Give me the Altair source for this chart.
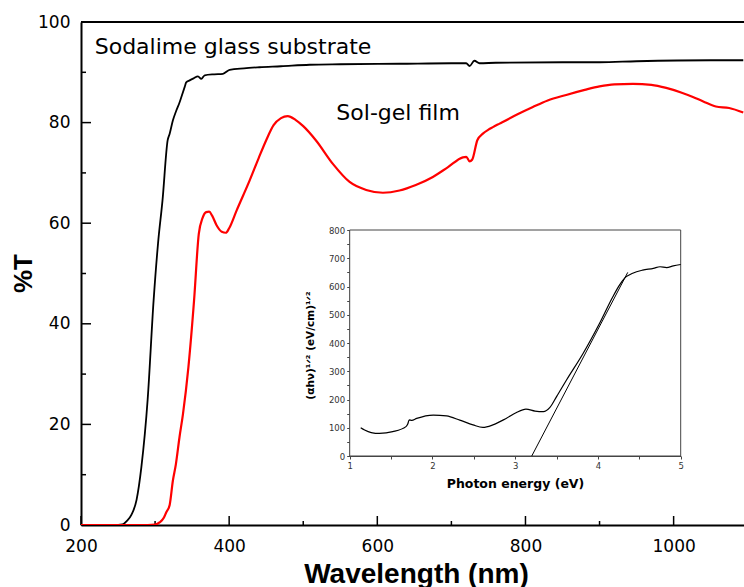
import altair as alt
import pandas as pd

# ---------------- data ----------------
glass_wl = [200, 250, 256, 262, 268, 275, 281.5, 290, 298, 304, 310, 317, 319.7, 324, 328.7,
            333, 335.5, 340, 342, 346.7, 352, 357.9, 362.4, 367, 380, 391.6, 400.6, 420, 441,
            470, 508.6, 550, 630, 700, 720, 724.6, 731, 738, 760, 850, 900, 950, 1050, 1094]
glass_T = [0, 0, 0.1, 0.8, 2, 5, 11.5, 25, 44.6, 56, 64.5, 76.5, 77.8, 80.4, 82.4,
           84.0, 85.1, 87.1, 88.0, 88.4, 88.8, 89.2, 88.7, 89.4, 89.6, 89.7, 90.5, 90.8, 91.0,
           91.2, 91.5, 91.6, 91.7, 91.8, 91.8, 91.25, 92.3, 91.8, 91.9, 92.0, 92.0, 92.2, 92.4, 92.4]

film_wl = [200, 290, 300, 306, 312, 315, 319.7, 324, 328, 333, 337.6, 345, 352.6, 359, 364,
           369, 373, 377, 383, 390, 395.5, 400, 410, 427.7, 440, 450, 460, 470, 479, 490,
           500, 517, 540, 562.6, 585, 607.6, 630, 652, 675, 695, 715.5, 720, 724.6, 728,
           735, 742.5, 750, 756, 765, 790, 810, 830, 855, 880, 900, 920, 945, 970, 990,
           1010, 1026, 1040, 1057, 1075, 1094]
film_T = [0, 0, 0.1, 0.5, 1.5, 2.5, 4, 8.8, 12, 17.5, 22, 31.4, 44.6, 57.9, 61,
          62.2, 62.3, 61.5, 59.6, 58.3, 58.1, 59, 62.5, 68.5, 73, 76.5, 79.5, 80.9, 81.3, 80.5,
          79.3, 76.5, 71.8, 68.2, 66.6, 66.05, 66.5, 67.6, 69.2, 71.1, 73.1, 73.2, 72.3, 72.6,
          76.5, 77.8, 78.6, 79.1, 79.8, 81.7, 83.1, 84.4, 85.5, 86.5, 87.2, 87.6, 87.7, 87.5, 86.9,
          86.0, 85.1, 84.2, 83.2, 82.9, 82.0]

inset_eV = [1.133, 1.18, 1.26, 1.36, 1.52, 1.68, 1.70, 1.72, 1.75, 1.81, 2.01, 2.17, 2.33,
            2.49, 2.61, 2.73, 2.89, 3.01, 3.13, 3.24, 3.34, 3.42, 3.50, 3.62, 3.82, 4.02,
            4.18, 4.26, 4.32, 4.42, 4.54, 4.67, 4.75, 4.83, 4.91, 5.0]
inset_val = [100, 92, 83, 80, 86, 104, 112, 128, 126, 133, 145, 142, 127,
             110, 101, 110, 133, 153, 166, 159, 157, 172, 210, 269, 363, 470,
             564, 605, 629, 647, 658, 664, 670, 667, 673, 678]

tangent_eV = [3.20, 4.36]
tangent_val = [0, 650]

y_ticks = [0, 20, 40, 60, 80, 100]
y_minor = [10, 30, 50, 70, 90]
x_ticks = [200, 400, 600, 800, 1000]
x_minor = [300, 500, 700, 900]
inset_x_ticks = [1, 1.5, 2, 2.5, 3, 3.5, 4, 4.5, 5]
inset_y_ticks = list(range(0, 801, 50))

labels_text = ["Sodalime glass substrate", "Sol-gel film"]
labels_wl = [218.5, 544.7]
labels_T = [93.7, 80.6]

# ---------------- layout ----------------
W, H = 663, 503
xs = alt.Scale(domain=[200, 1095], nice=False, zero=False)
ys = alt.Scale(domain=[0, 100], nice=False, zero=False)

df_glass = pd.DataFrame({"wl": glass_wl, "T": glass_T})
df_film = pd.DataFrame({"wl": film_wl, "T": film_T})
df_text = pd.DataFrame({"wl": labels_wl, "T": labels_T, "label": labels_text})

xaxis = alt.Axis(orient="bottom", values=x_ticks, format="d", ticks=False, grid=False,
                 domainWidth=2, domainColor="black",
                 labelFont="DejaVu Sans", labelFontSize=17, labelColor="black", labelPadding=13,
                 labelFlush=False, labelOverlap=False,
                 title="Wavelength (nm)", titleFont="Liberation Sans", titleFontWeight="bold",
                 titleFontSize=28, titleColor="black", titleX=335, titleY=57,
                 titleBaseline="alphabetic", titleAlign="center")
yaxis = alt.Axis(orient="left", values=y_ticks, format="d", ticks=False, grid=False,
                 domainWidth=2, domainColor="black",
                 labelFont="DejaVu Sans", labelFontSize=17, labelColor="black", labelPadding=11,
                 labelOverlap=False,
                 title="%T", titleFont="Liberation Sans", titleFontWeight="bold",
                 titleFontSize=26, titleColor="black", titleX=-50, titleY=251, titleAngle=270,
                 titleBaseline="alphabetic", titleAlign="center")

glass = alt.Chart(df_glass).mark_line(color="black", strokeWidth=1.8, interpolate="monotone", clip=True).encode(
    x=alt.X("wl:Q", scale=xs, axis=xaxis),
    y=alt.Y("T:Q", scale=ys, axis=yaxis),
)
film = alt.Chart(df_film).mark_line(color="#ff0000", strokeWidth=2.2, interpolate="monotone", clip=True).encode(
    x=alt.X("wl:Q", scale=xs, axis=None),
    y=alt.Y("T:Q", scale=ys, axis=None),
)
texts = alt.Chart(df_text).mark_text(align="left", baseline="alphabetic", font="DejaVu Sans",
                                     fontSize=22, color="black").encode(
    x=alt.X("wl:Q", scale=xs, axis=None),
    y=alt.Y("T:Q", scale=ys, axis=None),
    text="label:N",
)

top_border = alt.Chart(pd.DataFrame({"v": [100]})).mark_rule(color="black", strokeWidth=2).encode(
    y=alt.Y("v:Q", scale=ys, axis=None), x=alt.value(0), x2=alt.value(W))
ymaj = alt.Chart(pd.DataFrame({"v": y_ticks})).mark_rule(color="black", strokeWidth=1.5).encode(
    y=alt.Y("v:Q", scale=ys, axis=None), x=alt.value(0), x2=alt.value(10))
ymin = alt.Chart(pd.DataFrame({"v": y_minor})).mark_rule(color="black", strokeWidth=1.5).encode(
    y=alt.Y("v:Q", scale=ys, axis=None), x=alt.value(0), x2=alt.value(5))
xmaj = alt.Chart(pd.DataFrame({"v": x_ticks})).mark_rule(color="black", strokeWidth=1.5).encode(
    x=alt.X("v:Q", scale=xs, axis=None), y=alt.value(H), y2=alt.value(H - 9))
xmin = alt.Chart(pd.DataFrame({"v": x_minor})).mark_rule(color="black", strokeWidth=1.5).encode(
    x=alt.X("v:Q", scale=xs, axis=None), y=alt.value(H), y2=alt.value(H - 4))

# ---------------- inset ----------------
ix = alt.Scale(domain=[1, 5], range=[268.7, 599.7], nice=False, zero=False)
iy = alt.Scale(domain=[0, 800], range=[434, 208], nice=False, zero=False)

ixaxis = alt.Axis(orient="bottom", offset=-69, values=inset_x_ticks,
                  labelExpr="datum.value % 1 == 0 ? format(datum.value, 'd') : ''",
                  tickSize=3, tickColor="#444", domainColor="#444", grid=False,
                  labelFont="DejaVu Sans", labelFontSize=8.5, labelColor="#333", labelPadding=2,
                  labelFlush=False, labelOverlap=False,
                  title="Photon energy (eV)", titleFont="DejaVu Sans", titleFontWeight="bold",
                  titleFontSize=12.5, titleColor="black", titleX=434, titleY=31.7,
                  titleBaseline="alphabetic", titleAlign="center")
iyaxis = alt.Axis(orient="left", offset=-268.7, values=inset_y_ticks,
                  labelExpr="datum.value % 100 == 0 ? format(datum.value, 'd') : ''",
                  tickSize=3, tickColor="#444", domainColor="#444", grid=False,
                  labelFont="DejaVu Sans", labelFontSize=8.5, labelColor="#333", labelPadding=2,
                  labelOverlap=False,
                  title="(αhν)¹ᐟ² (eV/cm)¹ᐟ²", titleFont="DejaVu Sans", titleFontWeight="bold",
                  titleFontSize=10.5, titleColor="black", titleX=-36, titleY=323, titleAngle=270,
                  titleBaseline="alphabetic", titleAlign="center")

box = alt.Chart(pd.DataFrame({"x1": [1], "x2": [5], "y1": [0], "y2": [800]})).mark_rect(
    fill="white", stroke="#444", strokeWidth=1).encode(
    x=alt.X("x1:Q", scale=ix, axis=ixaxis), x2="x2:Q",
    y=alt.Y("y1:Q", scale=iy, axis=iyaxis), y2="y2:Q")
icurve = alt.Chart(pd.DataFrame({"eV": inset_eV, "val": inset_val})).mark_line(
    color="black", strokeWidth=1.2, interpolate="monotone").encode(
    x=alt.X("eV:Q", scale=ix, axis=None), y=alt.Y("val:Q", scale=iy, axis=None))
itangent = alt.Chart(pd.DataFrame({"eV": tangent_eV, "val": tangent_val})).mark_line(
    color="black", strokeWidth=1).encode(
    x=alt.X("eV:Q", scale=ix, axis=None), y=alt.Y("val:Q", scale=iy, axis=None))

chart = alt.layer(
    top_border, ymaj, ymin, xmaj, xmin, glass, film, texts, box, icurve, itangent
).resolve_scale(x="independent", y="independent").properties(
    width=W, height=H,
    padding={"left": 81, "top": 22, "right": 0, "bottom": 62},
    autosize=alt.AutoSizeParams(type="none"),
).configure_view(stroke=None).configure(background="white")

chart.save("out.html", embed_options={"renderer": "svg", "actions": False})
